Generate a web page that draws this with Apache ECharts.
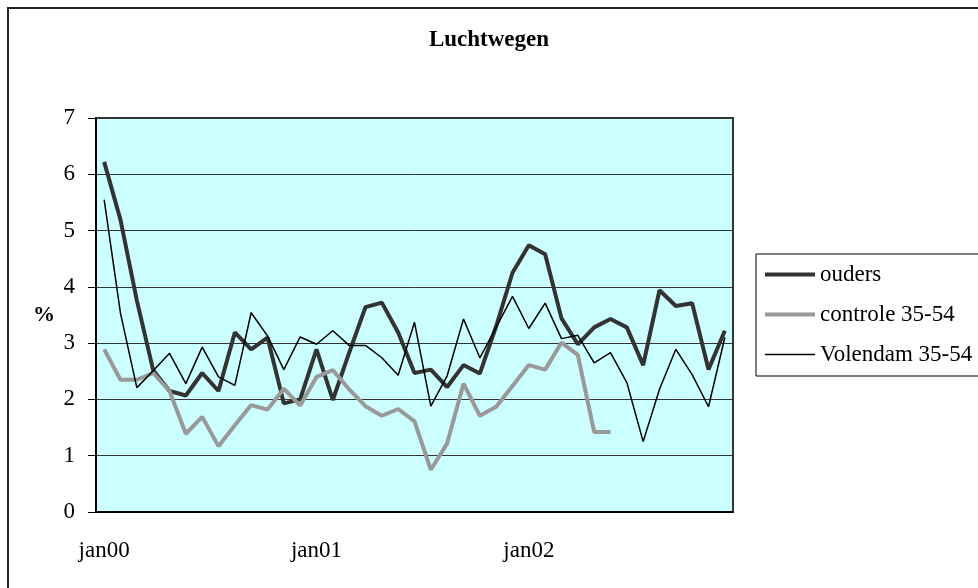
<!DOCTYPE html>
<html>
<head>
<meta charset="utf-8">
<script src="https://cdn.jsdelivr.net/npm/echarts@6/dist/echarts.min.js"></script>
<style>
  html, body { margin: 0; padding: 0; background: #fff; }
  #chart { width: 978px; height: 588px; }
</style>
</head>
<body>
<div id="chart"></div>
<script>
// 13 four-week periods per year, 2000 - 2002
var periods = [
  'jan00', '2/00', '3/00', '4/00', '5/00', '6/00', '7/00', '8/00', '9/00', '10/00', '11/00', '12/00', '13/00',
  'jan01', '2/01', '3/01', '4/01', '5/01', '6/01', '7/01', '8/01', '9/01', '10/01', '11/01', '12/01', '13/01',
  'jan02', '2/02', '3/02', '4/02', '5/02', '6/02', '7/02', '8/02', '9/02', '10/02', '11/02', '12/02', '13/02'
];

var ouders = [
  6.22, 5.19, 3.76, 2.52, 2.15, 2.07, 2.47, 2.15, 3.19, 2.89, 3.10, 1.93, 2.00,
  2.89, 1.99, 2.83, 3.64, 3.72, 3.19, 2.47, 2.53, 2.22, 2.61, 2.46, 3.30, 4.25,
  4.74, 4.58, 3.44, 2.98, 3.28, 3.43, 3.28, 2.61, 3.94, 3.66, 3.71, 2.53, 3.22
];

var controle = [
  2.89, 2.35, 2.35, 2.47, 2.15, 1.39, 1.69, 1.17, 1.54, 1.90, 1.82, 2.19, 1.89,
  2.40, 2.52, 2.18, 1.88, 1.71, 1.83, 1.61, 0.75, 1.22, 2.28, 1.71, 1.87, 2.24,
  2.61, 2.53, 3.01, 2.79, 1.42, 1.42, null, null, null, null, null, null, null
];

var volendam = [
  5.55, 3.53, 2.21, 2.51, 2.82, 2.28, 2.93, 2.40, 2.25, 3.54, 3.13, 2.53, 3.11,
  2.98, 3.22, 2.96, 2.96, 2.74, 2.43, 3.37, 1.88, 2.42, 3.43, 2.74, 3.28, 3.83,
  3.26, 3.71, 3.08, 3.14, 2.65, 2.83, 2.30, 1.25, 2.18, 2.89, 2.44, 1.87, 3.10
];

var font = '"Liberation Serif", "Times New Roman", serif';
// legend line samples: the moves to the corners keep the 50x14 box, the bar is the line
var thickIcon = 'path://M0,0M50,14M0,5H50V9H0Z';
var thinIcon = 'path://M0,0M50,14M0,6.25H50V7.75H0Z';

var chartDom = document.getElementById('chart');
var myChart = echarts.init(chartDom);
var option;

option = {
  animation: false,
  backgroundColor: '#fff',
  title: {
    text: 'Luchtwegen',
    left: 'center',
    top: 29,
    padding: 0,
    textStyle: { fontFamily: font, fontSize: 23, fontWeight: 'bold', color: '#000' }
  },
  legend: {
    orient: 'vertical',
    left: 765,
    top: 263,
    padding: 0,
    itemWidth: 50,
    itemHeight: 14,
    itemGap: 17,
    itemStyle: { borderWidth: 0 },
    textStyle: { fontFamily: font, fontSize: 23, color: '#000' },
    data: [
      { name: 'ouders', icon: thickIcon },
      { name: 'controle 35-54', icon: thickIcon },
      { name: 'Volendam 35-54', icon: thinIcon }
    ]
  },
  graphic: [
    {
      type: 'rect',
      shape: { x: 8, y: 8, width: 1200, height: 1200 },
      style: { fill: 'none', stroke: '#222', lineWidth: 2 },
      silent: true
    },
    {
      type: 'rect',
      shape: { x: 756, y: 254, width: 400, height: 122 },
      style: { fill: 'none', stroke: '#000', lineWidth: 1 },
      silent: true
    }
  ],
  grid: {
    left: 96,
    right: 245,
    top: 118,
    bottom: 76,
    show: true,
    backgroundColor: '#ccffff',
    borderColor: '#333',
    borderWidth: 2
  },
  xAxis: {
    type: 'category',
    data: periods,
    boundaryGap: true,
    axisLine: { lineStyle: { color: '#000', width: 2 } },
    axisTick: { interval: 12, length: 8, lineStyle: { color: '#000' } },
    axisLabel: { interval: 12, margin: 27, fontFamily: font, fontSize: 23, color: '#000' },
    splitLine: { show: false }
  },
  yAxis: {
    type: 'value',
    min: 0,
    max: 7,
    interval: 1,
    name: '%',
    nameLocation: 'middle',
    nameRotate: 0,
    nameGap: 41,
    nameTextStyle: { fontFamily: font, fontSize: 22, fontWeight: 'bold', color: '#000', padding: [0, 0, 10, 0] },
    axisLine: { show: true, lineStyle: { color: '#000', width: 2 } },
    axisTick: { show: true, length: 8, lineStyle: { color: '#000' } },
    axisLabel: { margin: 21, fontFamily: font, fontSize: 23, color: '#000' },
    splitLine: { lineStyle: { color: '#333', width: 1 } }
  },
  series: [
    {
      name: 'ouders',
      type: 'line',
      data: ouders,
      symbol: 'none',
      itemStyle: { color: '#333' },
      lineStyle: { color: '#333', width: 4 }
    },
    {
      name: 'controle 35-54',
      type: 'line',
      data: controle,
      symbol: 'none',
      itemStyle: { color: '#999' },
      lineStyle: { color: '#999', width: 4 }
    },
    {
      name: 'Volendam 35-54',
      type: 'line',
      data: volendam,
      symbol: 'none',
      itemStyle: { color: '#000' },
      lineStyle: { color: '#000', width: 1.5 }
    }
  ]
};

option && myChart.setOption(option);
</script>
</body>
</html>
